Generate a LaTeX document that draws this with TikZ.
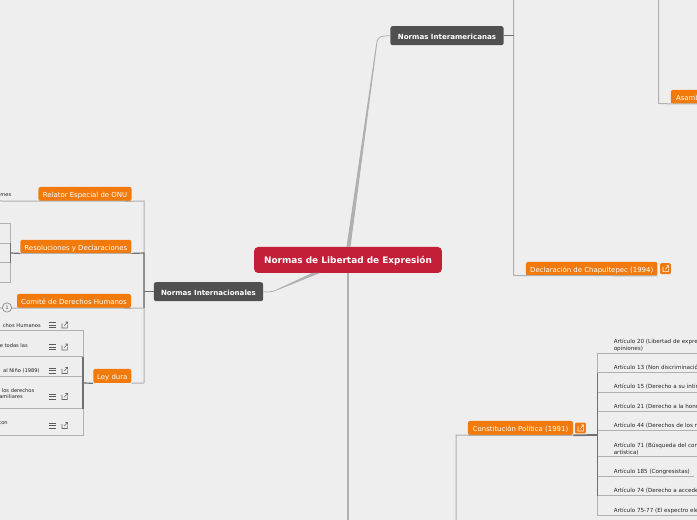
\documentclass[tikz,border=0pt]{standalone}
\usepackage{fontspec}
\setmainfont{DejaVu Sans}
\definecolor{bgc}{HTML}{EEEEEE}
\definecolor{orangec}{HTML}{F27A0C}
\definecolor{darkc}{HTML}{505050}
\definecolor{redc}{HTML}{C41F38}
\definecolor{linec}{HTML}{B0B0B0}
\definecolor{darkline}{HTML}{707070}
\tikzset{
  basebox/.style={inner sep=0pt,rounded corners=1.5pt,text=white,align=center,text height=0.74em,text depth=0.2em},
  orangebox/.style={basebox,fill=orangec,font=\fontsize{5.2}{6}\selectfont},
  darkbox/.style={basebox,fill=darkc,font=\fontsize{5.3}{6}\selectfont\bfseries},
  rootbox/.style={basebox,fill=redc,rounded corners=3pt,font=\fontsize{6.7}{8}\selectfont\bfseries},
  leaf/.style={inner sep=0pt,text=black!85,font=\fontsize{4.2}{5}\selectfont,align=left},
  leafl/.style={leaf,font=\fontsize{3.85}{5}\selectfont},
  conn/.style={draw=linec,line width=0.75pt},
  connd/.style={draw=darkline,line width=0.9pt},
  linkbox/.style={fill=orangec,rounded corners=1pt,inner sep=0pt,minimum size=8.2pt},
  linkglyph/.pic={\draw[#1,line width=0.4pt] (-2.5,-1.5) -- (-2.5,3) -- (2.8,3) -- (2.8,0) (-0.4,0.6) -- (3.2,-3) (0.8,-3) -- (3.2,-3) -- (3.2,-0.8);},
  listglyph/.pic={\draw[black!65,line width=0.5pt] (-3.5,-2.5) -- (3.5,-2.5) (-3.5,0) -- (3.5,0) (-3.5,2.5) -- (3.5,2.5);},
  x=0.75pt,y=-0.75pt
}
\begin{document}
\begin{tikzpicture}
\useasboundingbox (0,0) rectangle (697,520);
\clip (0,0) rectangle (697,520);
\fill[bgc] (0,0) rectangle (697,520);

% free ends
\coordinate (tR) at (513.5,0);
\coordinate (tA) at (658.5,0);
\coordinate (bM) at (348,520);
\coordinate (bC) at (456,520);

% nodes
\node[rootbox,minimum width=140.8pt,minimum height=19.5pt] (root) at (348,260) {Normas de Libertad de Expresión};
\node[darkbox,minimum width=84.8pt,minimum height=14.2pt] (inter) at (447,35.7) {Normas Interamericanas};
\node[darkbox,minimum width=81.8pt,minimum height=14.2pt] (intl) at (208.5,291.7) {Normas Internacionales};
\node[orangebox,minimum width=69.8pt,minimum height=10.5pt] (rel) at (85,194) {Relator Especial de ONU};
\node[orangebox,minimum width=83.2pt,minimum height=10pt] (res) at (75.8,246.5) {Resoluciones y Declaraciones};
\node[orangebox,minimum width=85.5pt,minimum height=10.5pt] (com) at (74,301) {Comité de Derechos Humanos};
\node[orangebox,minimum width=28.5pt,minimum height=10.5pt] (ley) at (112.3,376) {Ley dura};
\node[orangebox,minimum width=98.6pt,minimum height=10.2pt] (dec) at (591.7,268.8) {Declaración de Chapultepec (1994)};
\node[orangebox,minimum width=78.8pt,minimum height=10.5pt] (con) at (520.5,428) {Constitución Política (1991)};
\node[orangebox,anchor=west,minimum width=30pt,minimum height=10.2pt,text width=28pt,align=left] (asa) at (670.5,96.8) {\hspace{3pt}Asamb};

% main connectors
\fill[linec] (346.5,247) -- (350.5,247) -- (377,45) -- (376,45) -- cycle;
\draw[linec,line width=0.6pt] (376.5,45) .. controls (377.5,37) and (379,36) .. (inter.west);
\draw[linec,line width=2pt] (root.south -| bM) -- (bM);
\fill[linec] (312,273) -- (320,273) -- (274,291.5) -- (273,291.2) -- cycle;
\draw[linec,line width=0.6pt] (273.5,291.3) .. controls (270,292.3) and (267,292) .. (intl.east);

% Interamericanas
\draw[conn] (tR) -- (513.5,275.5) -- (dec.south east);
\draw[connd] (inter.east) -- (513.5,35.7);
\draw[conn] (tA) -- (658.5,103.5) -- (asa.south west) -- (asa.south east);

% Internacionales branches
\coordinate (relL) at (0,201);
\coordinate (comL) at (0,308);
\draw[conn] (relL) -- (rel.south east) -- (144,201) -- (144,383) -- (ley.south east);
\draw[conn] (res.south west) -- (res.south east);
\draw[conn] (comL) -- (com.south east) -- (144,308);
\draw[connd] (res.south east) -- (144,253) -- (144,308);
\draw[connd] (144,291.7) -- (intl.west);

% Resoluciones box
\coordinate (a1) at (0,224); \coordinate (a2) at (0,243.5); \coordinate (a3) at (0,263); \coordinate (a4) at (0,282.5);
\draw[conn] (a1) -- (10.7,224) -- (10.7,282.5) -- (a4);
\draw[conn] (a2) -- (10.7,243.5);
\draw[conn] (a3) -- (10.7,263);
\draw[connd] (res.south west) -- (10.7,253);
\draw[connd] (10.7,243.5) -- (10.7,263);

% Ley dura box
\coordinate (b1) at (0,331); \coordinate (b2) at (0,357); \coordinate (b3) at (0,376.5); \coordinate (b4) at (0,409); \coordinate (b5) at (0,436);
\draw[conn] (b1) -- (83,331) -- (83,436) -- (b5);
\draw[conn] (b2) -- (83,357);
\draw[conn] (b3) -- (83,376.5);
\draw[conn] (b4) -- (83,409);
\draw[connd] (83,357) -- (83,409);
\draw[connd] (ley.south west) -- (83,383);

% Constitucion box
\draw[conn] (bC) -- (456,435) -- (con.south west) -- (con.south east);
\coordinate (c1) at (697,353.5); \coordinate (c2) at (697,373); \coordinate (c3) at (697,392.5); \coordinate (c4) at (697,412); \coordinate (c5) at (697,431); \coordinate (c6) at (697,457); \coordinate (c7) at (693.7,477); \coordinate (c8) at (697,496); \coordinate (c9) at (697,516);
\draw[conn] (c1) -- (597.3,353.5) -- (597.3,516) -- (c9);
\foreach \c/\y in {c2/373,c3/392.5,c4/412,c5/431,c6/457,c7/477,c8/496}{\draw[conn] (597.3,\y) -- (\c);}
\draw[connd] (597.3,373) -- (597.3,496);
\draw[darkline,line width=1.3pt] (con.south east) -- (597.3,435);

% leaf text, right side
\node[leaf,anchor=south west] (l1) at (613.5,352) {Artículo 20 (Libertad de expre\\opiniones)};
\node[leaf,anchor=base west] (l2) at (613.5,369.5) {Artículo 13 (Non discriminació};
\node[leaf,anchor=base west] (l3) at (613.5,389) {Artículo 15 (Derecho a su intir};
\node[leaf,anchor=base west] (l4) at (613.5,408.5) {Artículo 21 (Derecho a la honr};
\node[leaf,anchor=base west] (l5) at (613.5,427.5) {Artículo 44 (Derechos de los n};
\node[leaf,anchor=south west] (l6) at (613.5,455.5) {Artículo 71 (Búsqueda del con\\artística)};
\node[leaf,anchor=base west] (l7) at (613.5,473.5) {Artículo 185 (Congresistas)};
\node[leaf,anchor=base west] (l8) at (613.5,492.5) {Artículo 74 (Derecho a accede};
\node[leaf,anchor=base west] (l9) at (613.5,512.5) {Artículo 75-77 (El espectro ele};

% leaf text, left side
\node[leafl,anchor=base east] (m1) at (11.5,197) {mes};
\node[leafl,anchor=base east] (m2) at (41,327.3) {chos Humanos};
\node[leafl,anchor=base east] (m3) at (28,347.5) {e todas las};
\node[leafl,anchor=base east] (m4) at (40,372.5) {al Niño (1989)};
\node[leafl,anchor=base east] (m5) at (34.5,392.5) {los derechos};
\node[leafl,anchor=base east] (m6) at (23,398.5) {amiliares};
\node[leafl,anchor=base east] (m7) at (8,424.5) {con};

% info circle on Comite line
\node[circle,draw=black!55,fill=bgc,line width=0.4pt,minimum size=7pt,inner sep=0pt,font=\fontsize{3.5}{4}\selectfont,text=black!70] (cnt) at (7,307.5) {1};

% icons
\foreach \y in {325,347,370.5,396.5,425.5}{
  \path (52,\y) pic {listglyph};
  \path (64.5,\y) pic {linkglyph=black!60};
}
\node[linkbox] (i1) at (665.5,268.7) {};
\path (i1) pic {linkglyph=white};
\node[linkbox] (i2) at (580.5,428) {};
\path (i2) pic {linkglyph=white};
\end{tikzpicture}
\end{document}
